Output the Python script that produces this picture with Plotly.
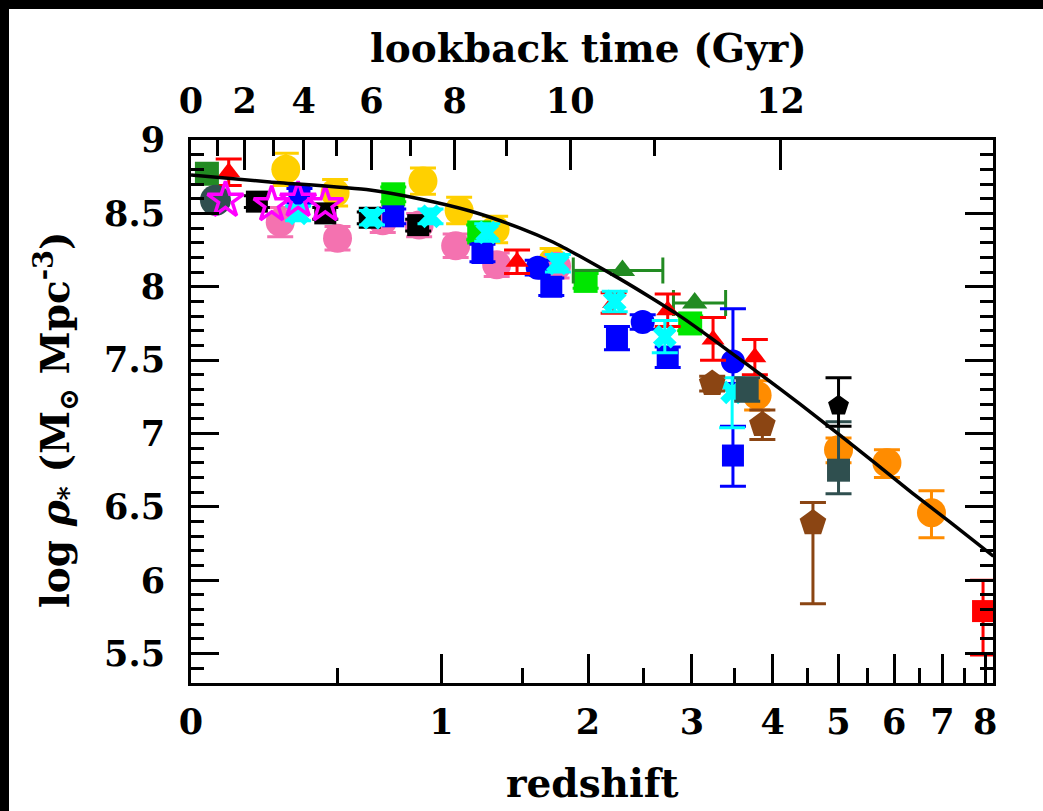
import numpy as np
import plotly.graph_objects as go

# ---------------- data ----------------
curve_z = [0.0, 0.244, 0.641, 0.885, 1.165, 1.486, 1.722, 1.93, 2.28, 2.56, 2.87, 3.09, 3.445,
           3.83, 4.395, 4.98, 5.64, 6.36, 7.17, 8.21]
curve_v = [8.761, 8.714, 8.659, 8.598, 8.516, 8.400, 8.305, 8.209, 8.052, 7.930, 7.800, 7.705, 7.555,
           7.405, 7.200, 7.003, 6.798, 6.594, 6.396, 6.164]

gold_z = [0.30, 0.49, 0.90, 1.10, 1.32, 1.72]
gold_v = [8.80, 8.64, 8.72, 8.52, 8.39, 8.17]
gold_e = [0.11, 0.09, 0.09, 0.09, 0.09, 0.09]

pink_z = [0.28, 0.50, 0.70, 0.88, 1.08, 1.33, 1.75]
pink_v = [8.44, 8.33, 8.45, 8.42, 8.28, 8.15, 8.14]
pink_e = [0.10, 0.08, 0.08, 0.08, 0.08, 0.08, 0.08]

black_sq_z = [0.20, 0.45, 0.64, 0.875]
black_sq_v = [8.58, 8.50, 8.47, 8.42]
black_sq_e = [0.04, 0.04, 0.04, 0.04]

lime_z = [0.75, 1.22, 1.98, 2.98]
lime_v = [8.63, 8.37, 8.04, 7.75]
lime_e = [0.05, 0.05, 0.05, 0.05]

blue_sq_z = [0.35, 0.75, 1.24, 1.71, 2.25, 2.74, 3.48]
blue_sq_v = [8.62, 8.48, 8.23, 8.00, 7.65, 7.52, 6.85]
blue_sq_ep = [0.05, 0.05, 0.06, 0.06, 0.08, 0.07, 0.20]
blue_sq_em = [0.05, 0.05, 0.06, 0.06, 0.08, 0.07, 0.21]

blue_ci_z = [1.61, 2.49, 3.48]
blue_ci_v = [8.13, 7.76, 7.49]
blue_ci_ep = [0.05, 0.05, 0.36]
blue_ci_em = [0.05, 0.05, 0.15]

red_tri_z = [0.11, 1.465, 2.22, 2.74, 3.24, 3.76]
red_tri_v = [8.78, 8.17, 7.89, 7.84, 7.64, 7.52]
red_tri_ep = [0.09, 0.08, 0.07, 0.11, 0.15, 0.12]
red_tri_em = [0.09, 0.08, 0.07, 0.11, 0.14, 0.12]

cyan_z = [0.345, 0.65, 0.94, 1.27, 1.76, 2.23, 2.71, 3.47]
cyan_v = [8.50, 8.47, 8.48, 8.37, 8.16, 7.90, 7.66, 7.28]
cyan_ep = [0.05, 0.05, 0.05, 0.06, 0.06, 0.07, 0.11, 0.10]
cyan_em = [0.05, 0.05, 0.05, 0.06, 0.06, 0.07, 0.11, 0.24]

star_z = [0.10, 0.25, 0.345, 0.45]
star_v = [8.59, 8.56, 8.59, 8.56]

dkgreen_sq_z = [0.045]
dkgreen_sq_v = [8.77]

dkgreen_tri_z = [2.30, 3.03]
dkgreen_tri_v = [8.11, 7.89]
dkgreen_tri_zlo = [1.88, 2.80]
dkgreen_tri_zhi = [2.69, 3.39]

slate_ci_z = [0.07]
slate_ci_v = [8.59]

slate_sq_z = [3.66, 5.0]
slate_sq_v = [7.30, 6.75]
slate_sq_ep = [0.08, 0.33]
slate_sq_em = [0.08, 0.16]

orange_z = [3.79, 5.0, 5.86, 6.76]
orange_v = [7.26, 6.89, 6.80, 6.46]
orange_ep = [0.10, 0.08, 0.09, 0.15]
orange_em = [0.10, 0.09, 0.10, 0.17]

brown_z = [3.23, 3.86, 4.59]
brown_v = [7.34, 7.06, 6.39]
brown_ep = [0.05, 0.10, 0.14]
brown_em = [0.05, 0.10, 0.55]

black_pent_z = [5.0]
black_pent_v = [7.19]
black_pent_ep = [0.19]
black_pent_em = [0.14]

red_sq_z = [7.95]
red_sq_v = [5.79]
red_sq_ep = [0.21]
red_sq_em = [0.30]

x_tick_z = [0, 1, 2, 3, 4, 5, 6, 7, 8]
x_minor_z = [0.5, 1.5, 2.5, 3.5, 4.5, 5.5, 6.5, 7.5]
y_ticks = [5.5, 6, 6.5, 7, 7.5, 8, 8.5, 9]
top_major_t = [0, 2, 4, 6, 8, 10, 12]
top_minor_t = [1, 3, 5, 7, 9, 11]

# ---------------- cosmology for the lookback-time axis ----------------
H0, Om, OL = 70.0, 0.3, 0.7
zg = np.linspace(0, 12, 24001)
integ = 1.0 / ((1 + zg) * np.sqrt(Om * (1 + zg) ** 3 + OL))
tl = 977.8 / H0 * np.concatenate([[0.0], np.cumsum(0.5 * (integ[1:] + integ[:-1]) * np.diff(zg))])


def z_of_t(t):
    return np.interp(np.asarray(t, float), tl, zg)


def opx(z):
    return [1.0 + v for v in z]


FONT = "DejaVu Serif"
fig = go.Figure()


def add(z, v, color, symbol, size, ep=None, em=None, zlo=None, zhi=None, lw=0, cap=13):
    kw = {}
    if ep is not None:
        kw["error_y"] = dict(type="data", symmetric=False, array=ep,
                             arrayminus=em if em is not None else ep,
                             color=color, thickness=3, width=cap)
    if zlo is not None:
        kw["error_x"] = dict(type="data", symmetric=False,
                             array=[h - c for h, c in zip(zhi, z)],
                             arrayminus=[c - l for c, l in zip(z, zlo)],
                             color=color, thickness=3, width=cap)
    mk = dict(color=color, symbol=symbol, size=size, line=dict(width=lw, color=color))
    fig.add_trace(go.Scatter(x=opx(z), y=v, mode="markers", marker=mk,
                             showlegend=False, hoverinfo="skip", **kw))


GOLD = "#FFD000"
PINK = "#F472B0"
CYAN = "#00FFFF"
BLUE = "#0000FF"
LIME = "#00E600"
RED = "#FF0000"
DKG = "#228B22"
SLATE = "#2F4F4F"
ORANGE = "#FF8C00"
BROWN = "#8B4513"
MAG = "#FF00FF"

add(gold_z, gold_v, GOLD, "circle", 29, gold_e)
add(pink_z, pink_v, PINK, "circle", 29, pink_e)
add(black_sq_z, black_sq_v, "black", "square", 22, black_sq_e)
add(lime_z, lime_v, LIME, "square", 24, lime_e)
add(dkgreen_tri_z, dkgreen_tri_v, DKG, "triangle-up", 22, zlo=dkgreen_tri_zlo, zhi=dkgreen_tri_zhi)
add(blue_sq_z, blue_sq_v, BLUE, "square", 22, blue_sq_ep, blue_sq_em)
add(blue_ci_z, blue_ci_v, BLUE, "circle", 24, blue_ci_ep, blue_ci_em)
add(red_tri_z, red_tri_v, RED, "triangle-up", 20, red_tri_ep, red_tri_em)
add(cyan_z, cyan_v, CYAN, "x", 21, cyan_ep, cyan_em)
add(dkgreen_sq_z, dkgreen_sq_v, DKG, "square", 24)
add(slate_ci_z, slate_ci_v, SLATE, "circle", 31)
add(star_z, star_v, MAG, "star-open", 27, lw=3.5)
add(orange_z, orange_v, ORANGE, "circle", 29, orange_ep, orange_em)
add(slate_sq_z, slate_sq_v, SLATE, "square", 23, slate_sq_ep, slate_sq_em)
add(brown_z, brown_v, BROWN, "pentagon", 28, brown_ep, brown_em)
add(black_pent_z, black_pent_v, "black", "pentagon", 22, black_pent_ep, black_pent_em)
add(red_sq_z, red_sq_v, RED, "square", 22, red_sq_ep, red_sq_em)

fig.add_trace(go.Scatter(x=opx(curve_z), y=curve_v, mode="lines",
                         line=dict(color="black", width=3.5, shape="spline", smoothing=0.6),
                         showlegend=False, hoverinfo="skip"))

# dummy trace so the top axis is drawn
fig.add_trace(go.Scatter(x=[1.0], y=[None], xaxis="x2", mode="markers",
                         showlegend=False, hoverinfo="skip"))

xr = [0, np.log10(9.2)]
tickfont = dict(family=FONT, size=35, color="black", weight="bold")

fig.update_layout(
    width=1043, height=811,
    margin=dict(l=191, r=50, t=140, b=128),
    paper_bgcolor="white", plot_bgcolor="white",
    showlegend=False,
    xaxis=dict(type="log", range=xr, showgrid=False, zeroline=False,
               showline=True, linewidth=3, linecolor="black", mirror=False,
               tickmode="array", tickvals=opx(x_tick_z), ticktext=[str(v) for v in x_tick_z],
               ticks="inside", ticklen=29, tickwidth=2.5, tickcolor="black",
               tickfont=tickfont, ticklabelstandoff=6,
               minor=dict(tickmode="array", tickvals=opx(x_minor_z), ticks="inside",
                          ticklen=15, tickwidth=2.5, tickcolor="black", showgrid=False)),
    xaxis2=dict(type="log", range=xr, overlaying="x", side="top", anchor="y",
                showgrid=False, zeroline=False,
                showline=True, linewidth=3, linecolor="black",
                tickmode="array", tickvals=list(1 + z_of_t(top_major_t)),
                ticktext=[str(t) for t in top_major_t],
                ticks="inside", ticklen=30, tickwidth=2.5, tickcolor="black",
                tickfont=tickfont, ticklabelstandoff=10,
                minor=dict(tickmode="array", tickvals=list(1 + z_of_t(top_minor_t)), ticks="inside",
                           ticklen=16, tickwidth=2.5, tickcolor="black", showgrid=False)),
    yaxis=dict(range=[5.3, 9.0], showgrid=False, zeroline=False,
               showline=True, linewidth=3, linecolor="black", mirror="ticks",
               tickmode="array", tickvals=y_ticks, ticktext=[("%g" % v) for v in y_ticks],
               ticks="inside", ticklen=28, tickwidth=2.5, tickcolor="black",
               tickfont=tickfont, ticklabelstandoff=16,
               minor=dict(dtick=0.1, tick0=0, ticks="inside", ticklen=13,
                          tickwidth=2.5, tickcolor="black", showgrid=False)),
)

W, H = 802.0, 543.0
annos = [
    dict(text="redshift", x=(592 - 191) / W, y=-(783 - 683) / H),
    dict(text="lookback time (Gyr)", x=(588 - 191) / W, y=1 + (140 - 48) / H),
    dict(text="log <i>ρ</i><sub>*</sub> (M<sub>⊙</sub> Mpc<sup>-3</sup>)",
         x=(55 - 191) / W, y=1 - (420 - 140) / H, textangle=-90),
]
for a in annos:
    fig.add_annotation(xref="paper", yref="paper", showarrow=False,
                       xanchor="center", yanchor="middle",
                       font=dict(family=FONT, size=39, color="black", weight="bold"), **a)

# black border strips at the top and left of the picture
fig.add_shape(type="rect", xref="paper", yref="paper", layer="above",
              x0=-191 / W, x1=(9 - 191) / W, y0=-128 / H, y1=1 + 140 / H,
              fillcolor="black", line=dict(width=0))
fig.add_shape(type="rect", xref="paper", yref="paper", layer="above",
              x0=-191 / W, x1=(1043 - 191) / W, y0=1 + (140 - 9) / H, y1=1 + 140 / H,
              fillcolor="black", line=dict(width=0))

fig.write_html("out.html")
